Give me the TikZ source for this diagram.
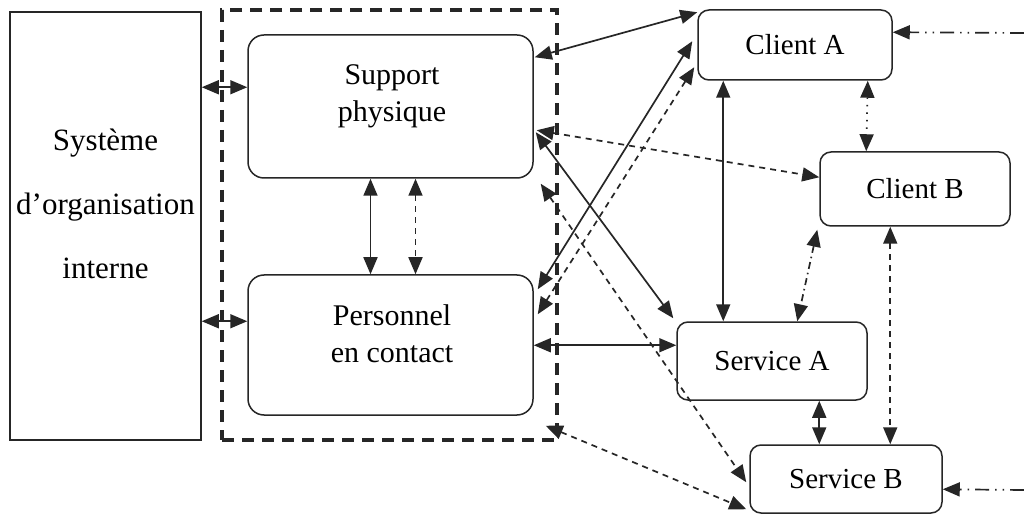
\documentclass[tikz,border=0pt]{standalone}
\usepackage{fontspec}
\setmainfont{Liberation Serif}
\usetikzlibrary{arrows.meta,calc}
\begin{document}
\begin{tikzpicture}[x=1pt,y=-1pt,
  line width=1.7pt, draw=black!85,
  tip/.tip={Triangle[length=17pt,width=14pt]},
  conn/.style={{tip}-{tip}, draw=black!85},
  dsh/.style={dash pattern=on 6pt off 5pt},
  ddot/.style={dash pattern=on 7pt off 4pt on 1.5pt off 4pt},
  dot/.style={dash pattern=on 1.5pt off 6pt},
  ddd/.style={dash pattern=on 14pt off 6pt on 1.5pt off 6pt on 1.5pt off 6pt},
  bigbox/.style={draw, line width=1.5pt, rounded corners=16pt, inner sep=0pt},
  smallbox/.style={draw, line width=1.5pt, rounded corners=11pt, inner sep=0pt, font=\fontsize{29}{34}\selectfont},
  txt/.style={align=center, inner sep=0pt, font=\fontsize{30}{37}\selectfont}
]
\useasboundingbox (0,0) rectangle (1024,518);
\fill[white] (0,0) rectangle (1024,518);

% left system
\node[draw, line width=1.5pt, minimum width=191pt, minimum height=428pt, inner sep=0pt] (sys) at (105.5,226) {};
\node[align=center, inner sep=0pt, font=\fontsize{31}{64}\selectfont] (syst) at (105.5,204) {Système\\d’organisation\\interne};

% dashed box
\node[draw, line width=3.2pt, dash pattern=on 12pt off 8pt, minimum width=335pt, minimum height=430pt, inner sep=0pt] (frame) at (389.5,225) {};

% support & personnel
\node[bigbox, minimum width=285pt, minimum height=143pt] (sp) at (390.5,106.5) {};
\node[txt] (spt) at (392,96) {Support\\physique};
\node[bigbox, minimum width=285pt, minimum height=140pt] (pc) at (390.5,345) {};
\node[txt] (pct) at (392,334) {Personnel\\en contact};

% clients & services
\node[smallbox, minimum width=194pt, minimum height=70pt] (ca) at (795,45) {Client A};
\node[smallbox, minimum width=190pt, minimum height=74pt] (cb) at (915,189) {Client B};
\node[smallbox, minimum width=190pt, minimum height=78pt] (sa) at (772,361) {Service A};
\node[smallbox, minimum width=192pt, minimum height=68pt] (sb) at (846,479) {Service B};

\coordinate (inA) at (1024,33);
\coordinate (inB) at (1024,490);

% left connectors
\draw[conn] ($(sys.north east)+(0,76)$) -- ($(sp.north west)+(0,53)$);
\draw[conn] ($(sys.north east)+(0,310)$) -- ($(pc.north west)+(0,47)$);

% support - personnel
\draw[conn] ($(sp.south)+(-20,0)$) -- ($(pc.north)+(-20,0)$);
\draw[conn,dsh] ($(sp.south)+(25,0)$) -- ($(pc.north)+(25,0)$);

% support links
\draw[conn] ($(sp.north east)+(1,23)$) -- ($(ca.north west)+(0,3)$);
\draw[conn] ($(sp.north east)+(2,98)$) -- ($(sa.north west)+(-3,-3)$);
\draw[conn,dsh] ($(sp.north east)+(3,96)$) -- ($(cb.north west)+(0,26)$);
\draw[conn,dsh] ($(sp.south east)+(7,5)$) -- ($(sb.north west)+(-3,38)$);

% personnel links
\draw[conn] ($(pc.north east)+(4,15)$) -- ($(ca.north west)+(-5,32)$);
\draw[conn,dsh] ($(pc.north east)+(4,40)$) -- ($(ca.north west)+(-3,58)$);
\draw[conn] ($(pc.north east)+(0,71)$) -- ($(sa.north west)+(0,24)$);
\draw[conn,dsh] ($(pc.south east)+(12,10)$) -- ($(sb.north west)+(-3,65)$);

% right side links
\draw[conn] ($(ca.south west)+(26,0)$) -- ($(sa.north west)+(47,0)$);
\draw[conn,dot] ($(ca.south east)+(-25,0)$) -- ($(cb.north west)+(47,0)$);
\draw[conn,ddot] ($(cb.south west)+(-2,3)$) -- ($(sa.north west)+(121,0)$);
\draw[conn,dsh] ($(cb.south west)+(71,0)$) -- ($(sb.north west)+(141,0)$);
\draw[conn] ($(sa.south west)+(143,0)$) -- ($(sb.north west)+(70,0)$);

% incoming
\draw[-{tip},ddd] (inA) -- ($(ca.north east)+(0,23)$);
\draw[-{tip},ddd] (inB) -- ($(sb.north east)+(0,45)$);
\end{tikzpicture}
\end{document}
